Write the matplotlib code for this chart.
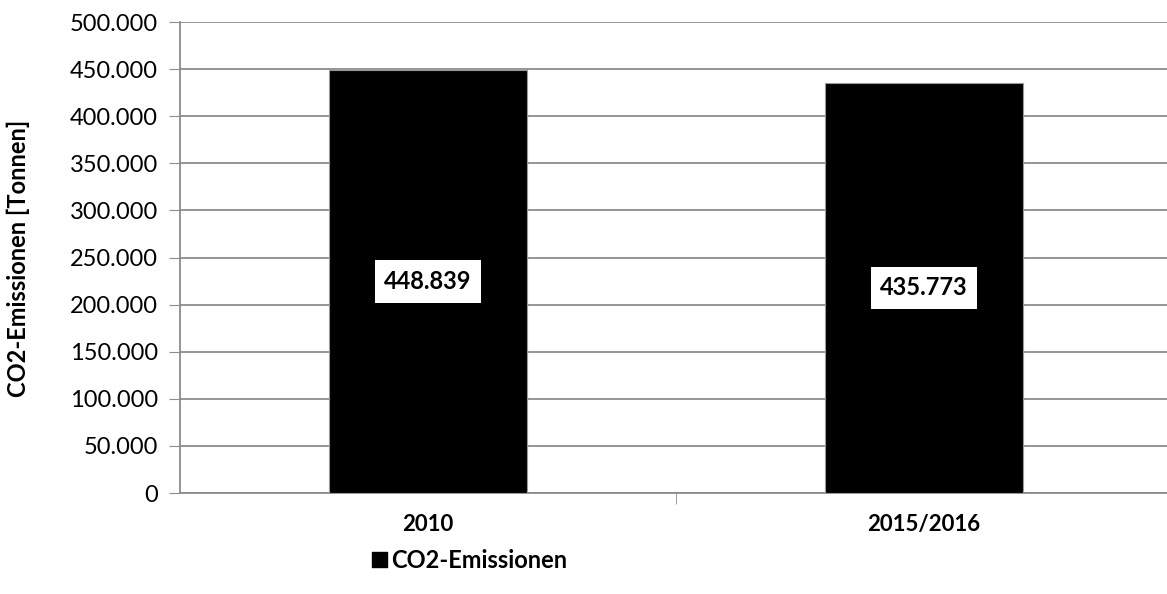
import matplotlib

matplotlib.use("Agg")
import matplotlib.pyplot as plt
from matplotlib.patches import Patch
from matplotlib.ticker import FuncFormatter

categories = ["2010", "2015/2016"]
emissions = [448839, 435773]
value_labels = ["448.839", "435.773"]

plt.rcParams["font.family"] = ["Lato", "DejaVu Sans"]

fig = plt.figure(figsize=(11.67, 5.94), dpi=100)
# plot area runs slightly past the right image edge, as in the original
ax = fig.add_axes([180 / 1167, 1 - 493 / 594, 992 / 1167, 471 / 594])

x = range(len(categories))
ax.bar(x, emissions, width=0.4, color="black", edgecolor="#999999", linewidth=0.8, zorder=3)
for xi, v, lab in zip(x, emissions, value_labels):
    ax.text(xi, v / 2, lab, ha="center", va="center", fontsize=17, fontweight="bold",
            bbox=dict(facecolor="white", edgecolor="none", pad=7), zorder=4)

ax.set_xlim(-0.5, 1.5)
ax.set_ylim(0, 500000)
ax.set_yticks(range(0, 500001, 50000))
ax.yaxis.set_major_formatter(FuncFormatter(lambda v, _: f"{int(v):,}".replace(",", ".")))
ax.set_xticks(list(x))
ax.set_xticklabels(categories, fontweight="bold", fontsize=16)
ax.set_xticks([0.5], minor=True)
ax.tick_params(axis="x", which="major", length=0, pad=15)
ax.tick_params(axis="x", which="minor", length=8, color="#8c8c8c", direction="out")
ax.tick_params(axis="y", length=8, color="#8c8c8c", labelsize=17, pad=8)
ax.grid(axis="y", color="#8c8c8c", linewidth=1.3, zorder=0)
for s in ["top", "right"]:
    ax.spines[s].set_visible(False)
for s in ["left", "bottom"]:
    ax.spines[s].set_color("#8c8c8c")
    ax.spines[s].set_linewidth(1.3)

fig.text(18 / 1167, 1 - 258 / 594, "CO2-Emissionen [Tonnen]", rotation=90, ha="center",
         va="center", fontsize=17, fontweight="bold")

fig.legend(handles=[Patch(facecolor="black", edgecolor="black", label="CO2-Emissionen")],
           loc="center", bbox_to_anchor=(470 / 1167, 1 - 560 / 594), frameon=False,
           prop={"weight": "bold", "size": 17}, handlelength=0.6, handleheight=0.6,
           handletextpad=0.2)

fig.savefig("out.png", dpi=100)
